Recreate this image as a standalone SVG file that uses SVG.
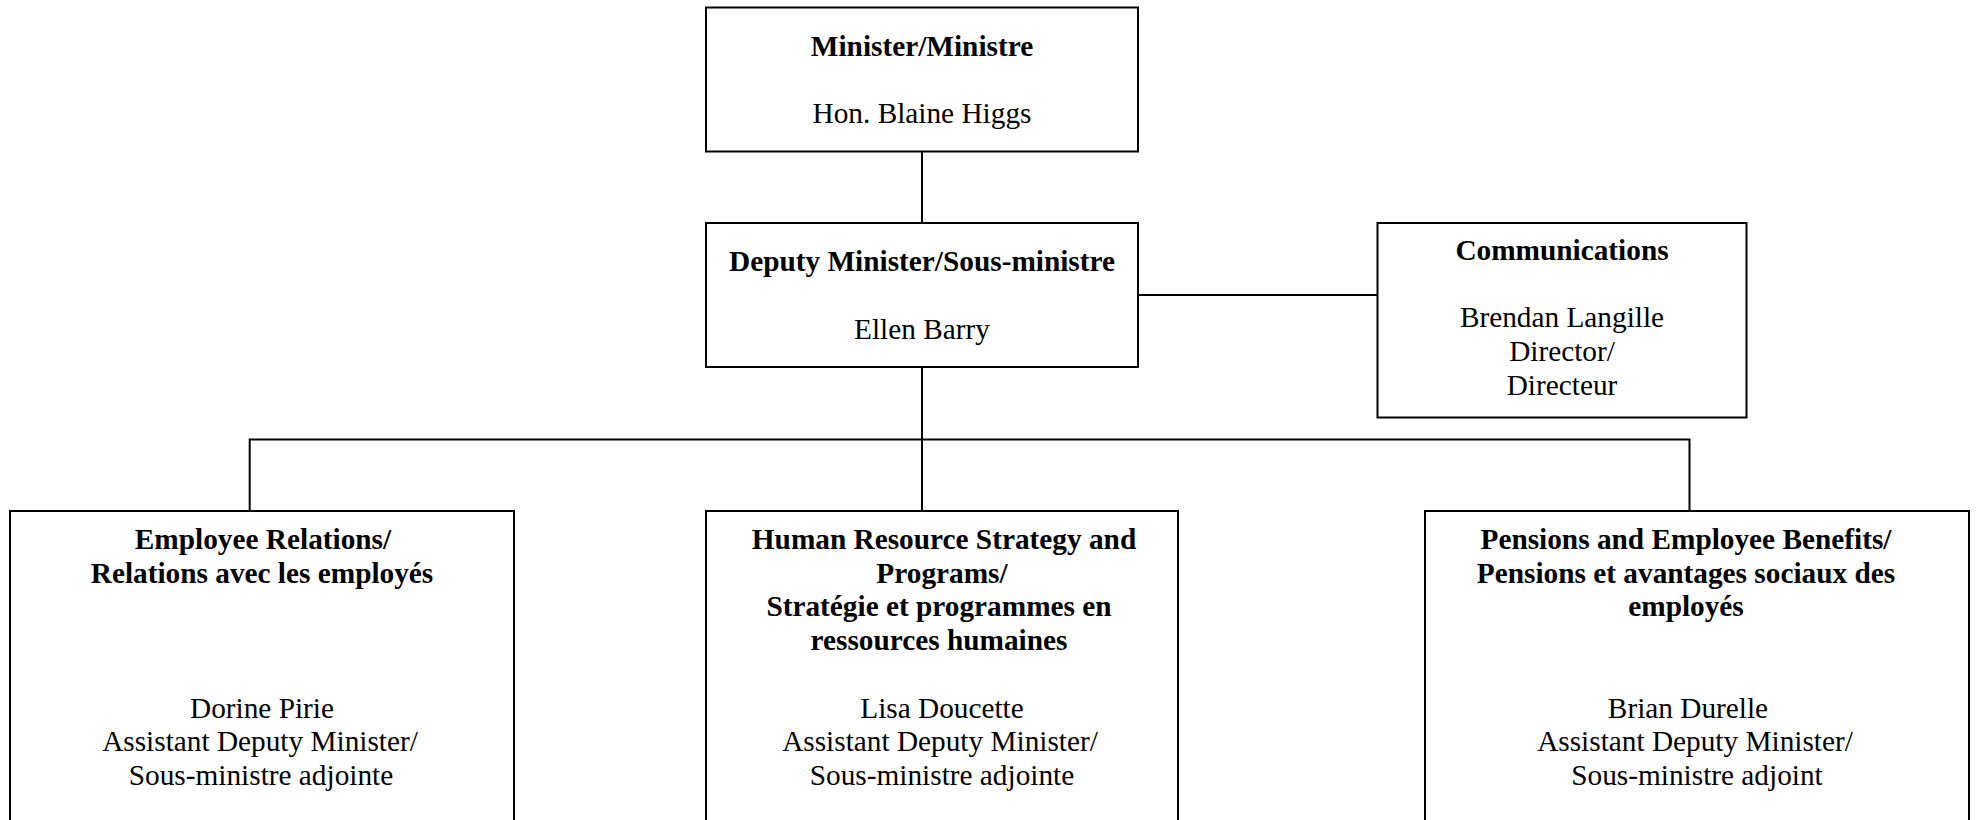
<svg xmlns="http://www.w3.org/2000/svg" width="1977" height="820" viewBox="0 0 1977 820">
  <style>
    .box { fill: #ffffff; stroke: #000000; stroke-width: 2; }
    .conn { fill: none; stroke: #000000; stroke-width: 2; }
    text { font-family: "Liberation Serif", "Times New Roman", serif; font-size: 29.3px; fill: #000000; text-anchor: middle; }
    .b { font-weight: bold; }
  </style>
  <rect width="1977" height="820" fill="#ffffff"/>
  <g id="connectors">
    <line class="conn" x1="922" y1="151.5" x2="922" y2="223"/>
    <line class="conn" x1="1138" y1="295" x2="1377.5" y2="295"/>
    <line class="conn" x1="922" y1="367" x2="922" y2="511"/>
    <polyline class="conn" points="249.7,511 249.7,439.5 1689.5,439.5 1689.5,511"/>
  </g>
  <g id="minister">
    <rect class="box" x="706" y="7.5" width="432" height="144"/>
    <text class="b" x="922" y="55.5">Minister/Ministre</text>
    <text x="922" y="123">Hon. Blaine Higgs</text>
  </g>
  <g id="deputy-minister">
    <rect class="box" x="706" y="223" width="432" height="144"/>
    <text class="b" x="922" y="271">Deputy Minister/Sous-ministre</text>
    <text x="922" y="339">Ellen Barry</text>
  </g>
  <g id="communications">
    <rect class="box" x="1377.5" y="223" width="369" height="194.5"/>
    <text class="b" x="1562" y="260">Communications</text>
    <text x="1562" y="327.4">Brendan Langille</text>
    <text x="1562" y="361.1">Director/</text>
    <text x="1562" y="394.8">Directeur</text>
  </g>
  <g id="employee-relations">
    <rect class="box" x="10" y="511" width="504" height="330"/>
    <text class="b" x="263" y="549">Employee Relations/</text>
    <text class="b" x="262" y="582.7">Relations avec les employés</text>
    <text x="262" y="717.5">Dorine Pirie</text>
    <text x="260" y="751.2">Assistant Deputy Minister/</text>
    <text x="261" y="784.9">Sous-ministre adjointe</text>
  </g>
  <g id="hr-strategy">
    <rect class="box" x="706" y="511" width="472" height="330"/>
    <text class="b" x="944" y="549">Human Resource Strategy and</text>
    <text class="b" x="942" y="582.7">Programs/</text>
    <text class="b" x="939" y="616.4">Stratégie et programmes en</text>
    <text class="b" x="939" y="650.1">ressources humaines</text>
    <text x="942" y="717.5">Lisa Doucette</text>
    <text x="940" y="751.2">Assistant Deputy Minister/</text>
    <text x="942" y="784.9">Sous-ministre adjointe</text>
  </g>
  <g id="pensions">
    <rect class="box" x="1425" y="511" width="544" height="330"/>
    <text class="b" x="1686" y="549">Pensions and Employee Benefits/</text>
    <text class="b" x="1686" y="582.7">Pensions et avantages sociaux des</text>
    <text class="b" x="1686" y="616.4">employés</text>
    <text x="1688" y="717.5">Brian Durelle</text>
    <text x="1695" y="751.2">Assistant Deputy Minister/</text>
    <text x="1697" y="784.9">Sous-ministre adjoint</text>
  </g>
</svg>
